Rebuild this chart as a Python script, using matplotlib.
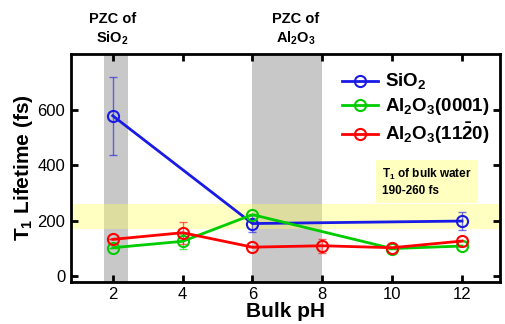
import matplotlib.pyplot as plt
import numpy as np

plt.rcParams['font.family'] = ['Liberation Sans', 'DejaVu Sans']
plt.rcParams['mathtext.fontset'] = 'custom'
plt.rcParams['mathtext.rm'] = 'Liberation Sans'
plt.rcParams['mathtext.bf'] = 'Liberation Sans:bold'

# T1 lifetimes (fs) vs bulk pH
ph_sio2 = [2, 6, 12]
t1_sio2 = [578, 190, 199]
err_sio2 = [140, 30, 33]

ph_0001 = [2, 4, 6, 10, 12]
t1_0001 = [103, 126, 222, 100, 109]
err_0001 = [0, 28, 0, 0, 0]

ph_1120 = [2, 4, 6, 8, 10, 12]
t1_1120 = [133, 157, 105, 110, 103, 127]
err_1120 = [0, 40, 0, 26, 0, 0]

pzc_sio2 = (1.75, 2.45)
pzc_al2o3 = (6.0, 8.0)
bulk_band = (170, 262)

fig = plt.figure(figsize=(5.06, 3.24), dpi=100)
ax = fig.add_axes([0.140, 0.130, 0.849, 0.703])

ax.axvspan(*pzc_sio2, color='#c8c8c8', lw=0, zorder=0)
ax.axvspan(*pzc_al2o3, color='#c8c8c8', lw=0, zorder=0)
ax.axhspan(*bulk_band, color='#ffff66', alpha=0.4, lw=0, zorder=1)

series = [
    (ph_sio2, t1_sio2, err_sio2, '#1a1ae6', r'SiO$_\mathbf{2}$'),
    (ph_0001, t1_0001, err_0001, '#00cc00', r'Al$_\mathbf{2}$O$_\mathbf{3}$(0001)'),
    (ph_1120, t1_1120, err_1120, '#ff0000', r'Al$_\mathbf{2}$O$_\mathbf{3}$(11$\mathbf{\bar{2}}$0)'),
]
for x, y, e, c, lab in series:
    ax.errorbar(x, y, yerr=e, fmt='none', ecolor=c, alpha=0.6,
                elinewidth=1, capsize=3, capthick=1, zorder=2)
    ax.plot(x, y, '-o', color=c, lw=2, ms=8, mfc='none', mew=1.5,
            label=lab, zorder=3)

ax.set_xlim(0.8, 13.1)
ax.set_ylim(-20, 800)
ax.set_xticks([2, 4, 6, 8, 10, 12])
ax.set_yticks([0, 200, 400, 600])
ax.tick_params(direction='in', top=True, right=True, width=2, length=5,
               labelsize=12, pad=4)
for s in ax.spines.values():
    s.set_linewidth(2)

ax.set_xlabel('Bulk pH', fontsize=15, fontweight='bold', labelpad=0)
ax.set_ylabel(r'T$_\mathbf{1}$ Lifetime (fs)', fontsize=15, fontweight='bold', labelpad=2)

ax.legend(loc='upper right', bbox_to_anchor=(1.0, 0.97), frameon=False,
          prop={'weight': 'bold', 'size': 13.5}, handlelength=1.9,
          handletextpad=0.35, labelspacing=0.2, borderaxespad=0.2)

ax.text(2.0, 1.03, 'PZC of\n' + r'SiO$_\mathbf{2}$', transform=ax.get_xaxis_transform(),
        ha='center', va='bottom', fontsize=10.5, fontweight='bold', linespacing=1.25)
ax.text(7.25, 1.03, 'PZC of\n' + r'Al$_\mathbf{2}$O$_\mathbf{3}$', transform=ax.get_xaxis_transform(),
        ha='center', va='bottom', fontsize=10.5, fontweight='bold', linespacing=1.25)

ax.text(9.72, 340, r'T$_\mathbf{1}$ of bulk water' + '\n190-260 fs', fontsize=8.5,
        fontweight='bold', ha='left', va='center', linespacing=1.4, zorder=4,
        bbox=dict(boxstyle='square,pad=0.5', fc='#ffffc0', ec='none'))

fig.savefig('out.png', dpi=100)
